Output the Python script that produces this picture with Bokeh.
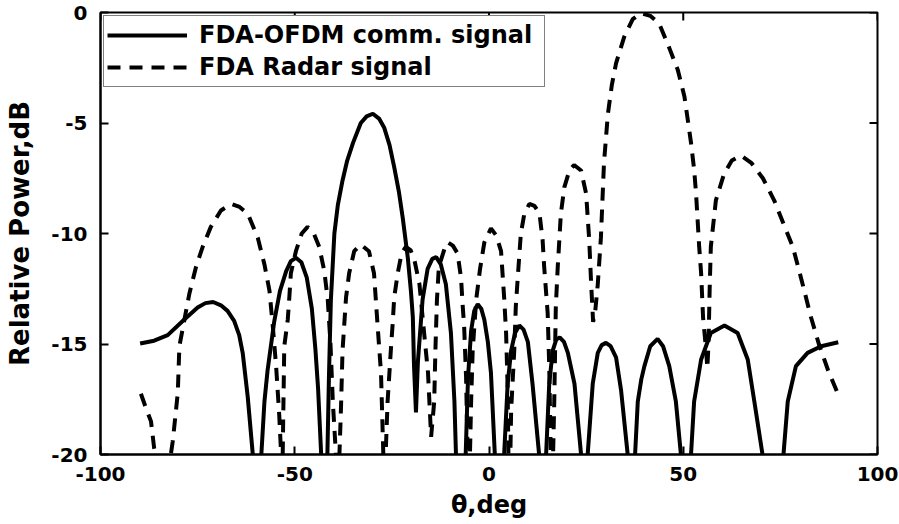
from bokeh.plotting import figure
from bokeh.models import Range1d, FixedTicker, Legend, LegendItem
from bokeh.embed import file_html
from bokeh.resources import INLINE

# ---------------- data ----------------
x_ticks = [-100, -50, 0, 50, 100]
x_tick_labels = ["-100", "-50", "0", "50", "100"]
y_ticks = [-20, -15, -10, -5, 0]
y_tick_labels = ["-20", "-15", "-10", "-5", "0"]

comm_label = "FDA-OFDM comm. signal"
radar_label = "FDA Radar signal"

comm_theta = [-89.8, -86.2, -82.7, -78.5, -75.0, -73.0, -71.0, -69.0, -67.3, -65.6,
              -64.3, -63.4, -62.1, -60.8, -59.7, -58.6, -57.8, -57.0, -55.3, -53.8,
              -52.2, -51.0, -49.7, -48.3, -46.9, -45.6, -44.7, -44.0, -43.2, -42.4,
              -41.6, -41.2, -40.7, -39.8, -38.9, -37.7, -36.5, -35.0, -33.0, -31.5,
              -29.9, -28.3, -27.0, -25.6, -24.4, -23.2, -22.2, -20.9, -20.1, -19.6,
              -19.3, -18.8, -18.3, -17.1, -15.8, -14.6, -13.6, -12.4, -11.1, -9.8,
              -8.9, -8.5, -7.2, -6.0, -5.4, -4.6, -3.8, -2.9, -2.0, -1.2,
              -0.3, 0.5, 1.5, 2.7, 3.9, 4.8, 5.7, 6.7, 7.8, 8.9,
              10.0, 11.2, 12.9, 13.8, 14.7, 15.5, 16.4, 17.3, 18.2, 19.3,
              20.3, 22.0, 23.7, 24.5, 25.4, 26.7, 28.0, 29.0, 30.1, 31.3,
              32.7, 34.0, 35.7, 36.7, 37.6, 38.3, 39.2, 40.0, 41.5, 43.4,
              44.8, 46.4, 48.1, 49.4, 50.7, 52.0, 52.8, 54.6, 57.1, 60.6,
              64.0, 66.6, 68.3, 70.4, 73.1, 75.8, 76.9, 79.0, 82.0, 85.5,
              89.9]
comm_power = [-14.98, -14.85, -14.6, -13.9, -13.35, -13.15, -13.1, -13.25, -13.5, -13.95,
              -14.6, -15.4, -17.4, -20.0, -26.0, -20.0, -17.6, -16.2, -14.0, -12.6,
              -11.7, -11.25, -11.1, -11.3, -12.0, -13.4, -15.2, -17.0, -20.0, -26.0,
              -20.0, -16.5, -13.0, -10.0, -8.7, -7.6, -6.7, -5.9, -5.0, -4.7,
              -4.58, -4.8, -5.2, -6.0, -7.0, -8.1, -9.3, -11.1, -12.6, -13.8,
              -16.0, -18.1, -15.8, -13.0, -11.6, -11.15, -11.07, -11.4, -12.3, -14.5,
              -17.6, -20.0, -26.0, -20.0, -16.5, -14.4, -13.5, -13.2, -13.4, -13.9,
              -14.9, -16.3, -20.0, -26.0, -20.0, -16.8, -15.3, -14.5, -14.16, -14.35,
              -14.9, -16.8, -20.0, -26.0, -20.0, -16.8, -15.3, -14.8, -14.7, -14.9,
              -15.4, -16.8, -20.0, -26.0, -20.0, -16.8, -15.4, -15.05, -14.95, -15.1,
              -15.6, -17.1, -20.0, -26.0, -20.0, -17.6, -16.6, -16.0, -15.1, -14.77,
              -15.1, -16.0, -17.6, -20.0, -26.0, -20.0, -17.6, -15.7, -14.5, -14.16,
              -14.5, -15.7, -17.6, -20.0, -26.0, -20.0, -17.6, -16.0, -15.4, -15.1,
              -14.92]

radar_theta = [-89.6, -88.3, -87.0, -86.2, -85.7, -83.8, -81.9, -81.4, -80.1, -79.7,
               -78.4, -77.1, -75.4, -73.7, -71.6, -69.0, -66.4, -64.2, -62.1, -59.5,
               -57.8, -56.5, -55.7, -54.8, -54.0, -53.5, -53.3, -53.1, -52.7, -51.8,
               -51.4, -51.0, -49.7, -48.2, -46.7, -45.2, -43.7, -42.4, -41.5, -40.8,
               -40.2, -39.4, -39.0, -38.5, -38.1, -37.7, -36.8, -36.0, -34.7, -33.0,
               -30.9, -29.6, -28.7, -27.8, -27.2, -26.9, -26.6, -26.1, -25.2, -24.8,
               -24.4, -23.5, -22.5, -21.4, -20.2, -19.2, -17.9, -16.7, -15.7, -14.9,
               -14.1, -13.8, -13.4, -12.9, -11.1, -10.6, -9.3, -8.1, -7.2, -6.8,
               -6.4, -5.9, -5.5, -5.2, -4.9, -4.6, -4.2, -3.3, -2.3, -1.2,
               0.5, 1.9, 3.1, 3.9, 4.4, 4.8, 5.0, 5.3, 5.5, 5.7,
               6.5, 6.9, 7.4, 8.2, 9.1, 10.4, 11.7, 13.0, 13.8, 14.2,
               15.1, 15.5, 15.9, 16.2, 16.5, 16.8, 17.2, 17.7, 18.5, 19.4,
               20.7, 21.9, 23.7, 25.0, 25.8, 26.3, 26.8, 27.3, 28.0, 28.8,
               29.6, 30.6, 31.6, 32.7, 34.8, 37.0, 39.1, 41.5, 43.8, 46.4,
               48.6, 50.3, 51.2, 52.0, 52.8, 53.3, 53.7, 54.1, 54.6, 55.1,
               55.9, 56.2, 56.5, 56.8, 57.1, 58.4, 60.5, 62.5, 64.9, 67.5,
               70.5, 73.4, 75.9, 78.2, 80.3, 82.9, 84.9, 87.3, 89.8]
radar_power = [-17.25, -17.9, -18.5, -19.7, -20.0, -26.0, -20.0, -19.4, -17.2, -15.1,
               -13.9, -12.7, -11.5, -10.6, -9.7, -8.96, -8.66, -8.8, -9.1, -10.2,
               -11.4, -12.6, -14.1, -16.0, -18.2, -20.0, -26.0, -20.0, -15.1, -13.9,
               -12.9, -11.8, -10.8, -10.0, -9.7, -9.95, -10.6, -11.7, -13.0, -15.0,
               -17.6, -20.0, -26.0, -20.0, -17.9, -15.3, -12.9, -11.8, -10.8, -10.5,
               -10.8, -11.8, -14.1, -16.3, -20.0, -26.0, -20.0, -17.6, -15.1, -14.1,
               -12.9, -11.8, -10.9, -10.6, -10.75, -11.2, -12.3, -14.5, -16.3, -19.2,
               -17.6, -15.3, -13.0, -11.5, -10.5, -10.4, -10.55, -10.9, -12.0, -13.2,
               -14.2, -16.5, -20.0, -26.0, -20.0, -17.6, -15.3, -13.0, -11.6, -10.4,
               -9.77, -10.1, -10.8, -12.9, -14.5, -17.0, -20.0, -26.0, -20.0, -18.0,
               -15.3, -13.3, -12.0, -10.0, -9.1, -8.66, -8.75, -9.1, -10.3, -11.5,
               -13.6, -16.0, -20.0, -26.0, -20.0, -17.6, -13.3, -11.5, -9.1, -7.9,
               -7.15, -6.9, -7.15, -8.2, -10.3, -12.3, -14.0, -13.6, -12.3, -10.2,
               -6.8, -4.6, -3.3, -2.3, -1.1, -0.3, -0.03, -0.15, -0.5, -1.6,
               -2.6, -3.8, -4.9, -5.9, -7.1, -8.2, -9.4, -10.6, -11.8, -13.8,
               -15.3, -16.1, -15.0, -12.5, -10.6, -8.5, -7.3, -6.7, -6.47, -6.8,
               -7.5, -8.5, -9.6, -10.6, -12.0, -13.8, -15.0, -16.2, -17.25]

# ---------------- figure ----------------
FONT = "DejaVu Sans"
W, H = 899, 524
BL, BR, BT, BB = 100, 22, 12, 70
X0, X1 = x_ticks[0], x_ticks[-1]
Y0, Y1 = y_ticks[0], y_ticks[-1]

p = figure(width=W, height=H, output_backend="svg", toolbar_location=None,
           x_range=Range1d(X0, X1), y_range=Range1d(Y0, Y1),
           min_border_left=BL, min_border_right=BR, min_border_top=BT,
           min_border_bottom=BB, background_fill_color="white",
           border_fill_color="white")
p.grid.visible = False
p.outline_line_color = "black"
p.outline_line_width = 2
p.outline_line_alpha = 1.0

r_comm = p.line(comm_theta, comm_power, line_color="black", line_width=4)
r_radar = p.line(radar_theta, radar_power, line_color="black", line_width=4,
                 line_dash="13 9")

# inward ticks on the top and right edges (box), length 8 px
tick_px = 8
dx = (X1 - X0) / (W - BL - BR) * tick_px
dy = (Y1 - Y0) / (H - BT - BB) * tick_px
p.segment(x0=x_ticks, y0=[Y1] * len(x_ticks), x1=x_ticks, y1=[Y1 - dy] * len(x_ticks),
          line_color="black", line_width=2)
p.segment(x0=[X1] * len(y_ticks), y0=y_ticks, x1=[X1 - dx] * len(y_ticks), y1=y_ticks,
          line_color="black", line_width=2)

xa = p.xaxis[0]
xa.ticker = FixedTicker(ticks=x_ticks)
xa.major_label_overrides = dict(zip(x_ticks, x_tick_labels))
ya = p.yaxis[0]
ya.ticker = FixedTicker(ticks=y_ticks)
ya.major_label_overrides = dict(zip(y_ticks, y_tick_labels))

for ax in (xa, ya):
    ax.axis_line_color = "black"
    ax.axis_line_width = 2
    ax.major_tick_in = 8
    ax.major_tick_out = 0
    ax.major_tick_line_width = 2
    ax.minor_tick_line_color = None
    ax.major_label_text_font = FONT
    ax.major_label_text_font_style = "bold"
    ax.major_label_text_font_size = "20px"
    ax.major_label_text_color = "black"
    ax.axis_label_text_font = FONT
    ax.axis_label_text_font_style = "bold"
    ax.axis_label_text_font_size = "24px"
    ax.axis_label_text_color = "black"

xa.axis_label = "\u03b8,deg"
xa.major_label_standoff = 12
xa.axis_label_standoff = 7
ya.axis_label = "Relative Power,dB"
ya.axis_label_text_font_size = "26px"
ya.major_label_standoff = 13
ya.axis_label_standoff = 13

legend = Legend(items=[LegendItem(label=comm_label, renderers=[r_comm]),
                       LegendItem(label=radar_label, renderers=[r_radar])],
                location="top_left", margin=3, padding=3, spacing=0,
                glyph_width=80, glyph_height=32, label_height=32,
                label_standoff=12, label_width=342,
                label_text_font=FONT, label_text_font_style="bold",
                label_text_font_size="24px", label_text_color="black",
                border_line_color="black", border_line_width=1.5,
                background_fill_color="white", background_fill_alpha=1.0)
p.add_layout(legend)

open("out.html", "w").write(file_html(p, INLINE))
